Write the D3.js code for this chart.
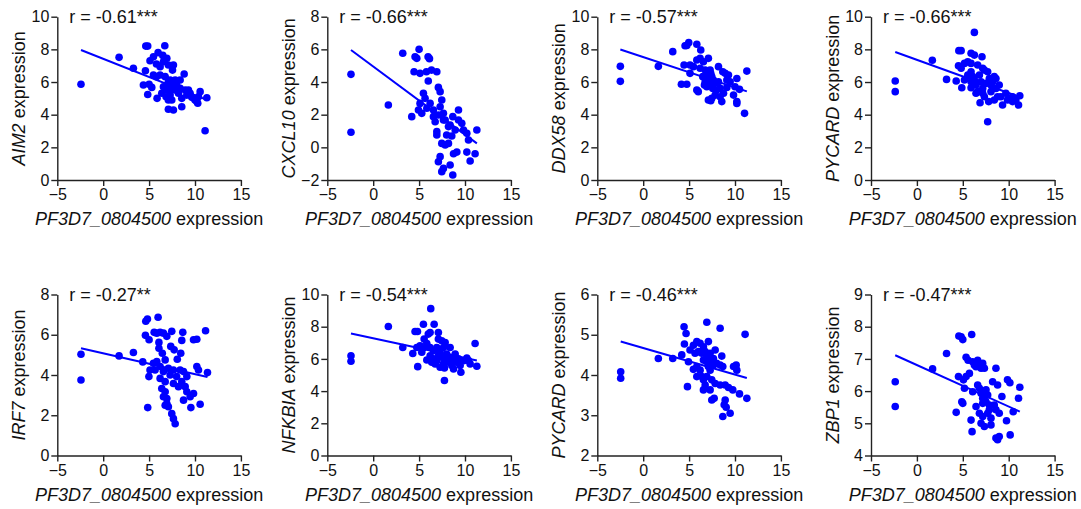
<!DOCTYPE html>
<html>
<head>
<meta charset="utf-8">
<script src="https://cdn.jsdelivr.net/npm/d3@7"></script>
<style>
  body { margin: 0; background: #fff; }
  svg { display: block; font-family: "Liberation Sans", Arial, sans-serif; }
</style>
</head>
<body>
<div id="chart"></div>
<script>
// gene on the y axis of each panel
var genes = ["AIM2", "CXCL10", "DDX58", "PYCARD", "IRF7", "NFKBIA", "PYCARD", "ZBP1"];
var rLabels = ["r = -0.61***", "r = -0.66***", "r = -0.57***", "r = -0.66***",
               "r = -0.27**", "r = -0.54***", "r = -0.46***", "r = -0.47***"];
var yDomains = [[0, 10], [-2, 8], [0, 10], [0, 10], [0, 8], [0, 10], [2, 6], [4, 9]];
var yTickSteps = [2, 2, 2, 2, 2, 2, 1, 1];
var xTicks = [-5, 0, 5, 10, 15];
var xLabel = "PF3D7_0804500";

// fitted line: y = intercept + slope * x
var fitIntercept = [7.42, 4.95, 7.53, 7.36, 5.08, 7.28, 4.67, 6.81];
var fitSlope = [-0.223, -0.417, -0.186, -0.203, -0.104, -0.122, -0.066, -0.129];

// points [x, y]
var aim2 = [[-2.42,5.86],[1.73,7.51],[3.29,6.84],[4.64,8.2],[4.85,8.2],[6.71,8.22],[4.6,6.69],[4.38,5.82],[5.0,5.86],[5.29,5.67],[4.85,5.24],[5.1,7.3],[5.98,7.8],[6.49,7.63],[6.93,7.45],[7.1,7.04],[7.55,6.73],[7.65,7.04],[5.8,7.1],[6.2,6.94],[6.56,7.24],[5.47,6.43],[5.8,6.33],[6.2,6.43],[6.75,6.33],[7.29,6.12],[8.82,6.49],[5.87,5.0],[6.38,5.31],[6.93,5.51],[7.1,4.9],[7.29,5.2],[7.47,5.71],[7.65,5.92],[7.84,5.51],[8.0,5.82],[8.2,5.31],[8.38,5.61],[8.56,5.0],[8.56,4.49],[7.1,4.33],[7.65,4.29],[8.93,5.51],[9.11,5.2],[9.29,5.51],[9.47,5.31],[9.65,5.06],[10.0,4.9],[10.2,4.8],[10.38,5.1],[10.56,5.41],[10.3,4.7],[11.29,5.04],[11.1,3.02],[6.93,5.82],[7.1,6.0],[7.36,5.61],[6.56,5.71],[6.85,5.1],[7.47,4.9],[7.84,6.12],[8.38,6.12],[5.47,7.55]];
var cxcl10 = [[-2.42,4.47],[-2.42,0.92],[1.65,2.59],[3.22,5.76],[4.56,5.55],[4.75,5.45],[5.0,6.0],[5.98,5.55],[6.13,5.43],[4.45,4.63],[5.1,4.53],[5.8,4.63],[6.35,4.73],[6.93,4.63],[6.0,4.06],[7.1,3.67],[7.29,3.41],[7.47,2.9],[5.47,3.31],[5.65,3.0],[5.1,2.69],[4.93,2.29],[4.2,1.88],[5.29,2.08],[5.84,2.39],[6.2,2.69],[6.56,2.29],[6.56,1.88],[6.75,1.57],[6.93,0.96],[6.93,0.76],[7.1,1.98],[7.29,2.49],[7.65,2.08],[7.84,1.67],[7.65,1.67],[8.2,1.27],[8.38,1.37],[8.67,1.88],[8.93,1.06],[9.29,1.67],[9.29,2.29],[9.65,1.47],[9.84,1.06],[10.2,0.86],[10.38,0.45],[11.29,1.06],[11.1,-0.39],[10.2,-0.29],[10.56,-0.84],[9.11,-0.29],[8.75,-0.39],[8.2,0.24],[7.47,0.24],[7.84,0.14],[7.29,-0.57],[7.1,-0.88],[7.65,-1.29],[7.47,-1.49],[8.38,-1.08],[8.67,-1.69],[8.56,0.69],[8.0,0.76]];
var ddx58 = [[-2.49,6.96],[-2.49,6.04],[1.65,6.96],[3.22,7.86],[4.56,8.22],[4.96,8.41],[4.75,8.24],[5.84,8.31],[6.27,7.96],[4.45,7.04],[5.1,7.04],[4.16,5.86],[4.75,5.86],[5.1,6.53],[5.47,6.94],[5.84,7.35],[6.2,7.45],[6.56,7.24],[7.1,7.45],[5.84,5.51],[6.0,5.41],[6.2,6.84],[6.75,6.73],[6.93,6.43],[7.29,6.73],[7.36,6.53],[6.49,6.33],[6.75,6.02],[6.93,5.71],[7.1,6.12],[7.29,5.82],[7.58,5.61],[7.84,5.92],[8.0,5.51],[8.2,6.02],[8.38,5.61],[7.1,4.9],[7.47,5.0],[7.36,4.86],[7.84,5.2],[8.56,4.8],[8.38,5.1],[8.75,5.31],[8.2,6.94],[8.67,6.63],[8.93,6.53],[9.29,6.43],[9.11,6.12],[9.47,6.02],[9.11,5.67],[9.84,5.2],[10.2,6.22],[10.0,5.71],[10.2,4.8],[10.2,4.69],[10.49,5.55],[11.29,6.67],[11.04,4.08],[6.67,5.82],[7.47,6.33],[7.65,6.12]];
var pycardA = [[-2.36,6.06],[-2.36,5.41],[1.68,7.33],[3.23,6.16],[4.57,7.92],[4.82,7.92],[6.26,9.04],[5.9,7.76],[6.26,7.65],[7.09,7.55],[4.28,6.06],[4.53,7.0],[4.82,6.84],[5.18,7.14],[5.54,7.24],[5.9,7.14],[4.89,5.65],[5.18,6.12],[5.54,6.43],[5.9,6.63],[6.08,6.33],[5.9,5.65],[6.26,6.12],[6.44,5.82],[6.62,5.41],[6.81,6.43],[6.99,6.02],[7.17,6.84],[7.17,5.61],[6.88,4.73],[7.35,5.1],[7.53,5.92],[7.71,6.63],[7.89,6.22],[8.07,5.41],[7.82,4.8],[7.71,3.57],[8.25,6.02],[8.43,6.33],[8.61,5.61],[8.79,5.1],[8.97,5.82],[9.15,5.1],[9.33,4.59],[9.69,5.31],[9.87,4.9],[10.05,5.0],[10.42,4.8],[10.78,4.9],[11.07,4.59],[11.21,5.16],[6.62,7.04],[7.35,6.73],[8.61,6.22],[8.07,5.82],[7.17,5.31],[6.44,5.31],[5.9,6.02],[8.43,4.9],[10.42,5.1]];
var irf7 = [[-2.42,5.03],[-2.42,3.75],[1.73,4.95],[3.29,5.12],[4.31,4.65],[4.64,6.67],[4.82,6.78],[5.98,6.87],[4.6,5.97],[5.0,5.75],[5.55,6.12],[5.84,6.08],[6.2,6.12],[6.56,6.08],[6.93,5.92],[7.47,6.17],[8.67,6.12],[8.56,5.72],[9.84,5.75],[10.2,5.78],[11.15,6.2],[6.07,5.62],[6.07,5.33],[6.44,5.08],[7.36,5.42],[7.73,5.25],[8.45,5.08],[8.07,4.78],[5.47,4.58],[5.84,4.67],[5.1,4.25],[4.98,3.92],[5.65,4.25],[6.2,4.42],[6.56,4.17],[6.75,4.75],[7.1,4.33],[7.29,4.0],[7.65,4.25],[8.0,3.92],[8.38,4.25],[8.75,4.17],[9.11,3.92],[10.2,4.42],[10.38,4.25],[11.36,4.12],[6.2,3.83],[6.75,3.67],[6.38,3.33],[6.75,3.17],[6.93,2.83],[6.56,2.92],[6.93,2.58],[7.1,2.42],[6.75,2.5],[7.47,2.08],[7.65,1.83],[7.84,1.58],[4.85,2.38],[8.2,3.42],[8.93,3.42],[9.11,3.17],[8.75,2.75],[9.47,2.92],[9.84,3.08],[9.55,2.38],[10.56,2.55],[7.65,3.58],[8.56,3.67]];
var nfkbia = [[-2.42,6.2],[-2.42,5.85],[1.65,8.01],[3.22,6.71],[4.31,6.34],[4.56,7.7],[4.82,7.7],[4.85,5.52],[5.47,8.15],[6.27,9.12],[6.64,8.15],[7.1,7.64],[6.0,7.54],[6.2,7.64],[7.1,7.23],[7.47,7.13],[7.84,7.02],[5.55,7.23],[5.84,6.96],[5.1,6.82],[4.75,6.71],[5.29,6.41],[6.2,6.71],[6.56,6.51],[6.93,6.71],[7.29,6.51],[7.65,6.71],[8.38,6.71],[5.84,5.93],[6.2,6.2],[6.56,6.0],[6.93,5.89],[7.1,6.2],[7.47,6.1],[7.65,5.69],[7.84,6.0],[8.0,6.3],[8.2,5.79],[8.38,6.1],[8.56,5.59],[8.75,5.89],[8.93,6.3],[9.11,5.79],[9.29,6.0],[7.76,5.44],[7.76,4.66],[8.75,5.38],[9.55,5.17],[9.84,5.89],[10.2,6.06],[10.38,5.89],[10.56,5.69],[11.1,6.96],[11.29,5.54],[6.75,5.69],[7.29,5.48],[6.38,5.79],[5.47,6.67],[9.47,5.59]];
var pycardB = [[-2.45,4.08],[-2.45,3.92],[1.65,4.41],[3.22,4.41],[4.2,4.5],[4.45,5.2],[4.67,5.03],[4.49,4.77],[4.93,4.33],[4.82,3.71],[6.93,5.31],[8.38,5.16],[11.1,5.01],[7.1,4.83],[5.1,4.62],[5.47,4.74],[5.84,4.83],[6.2,4.79],[6.56,4.7],[5.65,4.54],[6.02,4.58],[6.38,4.54],[6.75,4.58],[7.29,4.54],[7.84,4.62],[8.56,4.47],[5.47,4.14],[5.84,4.21],[6.2,4.12],[6.56,4.37],[6.93,4.33],[7.1,4.21],[7.29,4.12],[7.65,4.25],[8.0,4.29],[8.38,4.25],[8.67,4.21],[5.84,3.96],[6.56,3.88],[6.93,3.96],[7.47,3.88],[6.75,3.75],[6.56,3.63],[7.29,3.63],[7.84,3.79],[8.38,3.75],[8.93,3.75],[9.29,3.69],[9.76,3.63],[10.49,3.53],[11.29,3.42],[9.84,4.21],[10.2,4.12],[10.13,4.25],[7.47,3.38],[7.73,3.42],[8.93,3.38],[8.82,3.26],[9.04,3.2],[8.67,2.97],[9.47,3.05],[7.65,4.41],[7.47,4.33],[6.93,4.45],[6.38,3.96]];
var zbp1 = [[-2.36,6.29],[-2.36,5.52],[1.71,6.69],[3.23,7.17],[4.28,5.34],[4.57,7.71],[4.82,7.69],[5.0,7.6],[5.97,7.76],[4.53,6.45],[5.07,6.35],[5.18,6.09],[4.89,5.67],[5.0,5.62],[5.36,7.05],[5.58,6.96],[5.72,6.55],[5.36,6.45],[6.08,6.91],[6.26,6.81],[6.44,6.76],[6.62,6.96],[6.81,6.81],[6.99,6.71],[7.17,6.86],[7.35,6.71],[6.08,5.98],[5.9,5.1],[6.01,4.74],[6.44,5.52],[6.62,6.19],[6.81,6.09],[6.99,5.93],[7.17,5.78],[7.17,5.62],[7.35,5.83],[7.53,5.67],[7.71,5.88],[7.89,5.57],[6.81,5.31],[6.99,5.0],[7.17,5.21],[7.35,4.9],[7.71,5.31],[8.07,5.16],[8.07,4.95],[8.25,6.29],[8.61,6.71],[8.79,6.19],[8.43,5.57],[8.61,5.42],[8.97,5.31],[9.26,5.83],[8.61,4.54],[8.97,4.59],[8.79,4.49],[9.76,5.08],[9.87,6.35],[10.13,6.26],[10.16,4.64],[10.49,5.36],[11.07,5.78],[11.21,6.12],[7.89,5.42],[7.53,6.04]];

var panelPoints = [aim2, cxcl10, ddx58, pycardA, irf7, nfkbia, pycardB, zbp1];

var W = 1081, H = 509;
var colLeft = [57.3, 327.3, 597.3, 871];
var plotW = 183.6;
var rowTop = [16.7, 294.5];
var plotH = [163.3, 161];
var blue = "#0000ff";

var svg = d3.select("#chart").append("svg")
    .attr("width", W)
    .attr("height", H);

genes.forEach(function(gene, i) {
    var col = i % 4, row = Math.floor(i / 4);
    var left = colLeft[col], top = rowTop[row], h = plotH[row];

    var x = d3.scaleLinear().domain([-5, 15]).range([0, plotW]);
    var y = d3.scaleLinear().domain(yDomains[i]).range([h, 0]);

    var g = svg.append("g")
        .attr("transform", "translate(" + left + "," + top + ")");

    var yTicks = d3.range(yDomains[i][0], yDomains[i][1] + 0.001, yTickSteps[i]);

    var yAxis = g.append("g")
        .call(d3.axisLeft(y).tickValues(yTicks).tickFormat(d3.format("d"))
            .tickSize(6).tickSizeOuter(0).tickPadding(2));

    var xAxis = g.append("g")
        .attr("transform", "translate(0," + h + ")")
        .call(d3.axisBottom(x).tickValues(xTicks).tickFormat(d3.format("d"))
            .tickSize(6).tickSizeOuter(0).tickPadding(3));

    [yAxis, xAxis].forEach(function(a) {
        a.select(".domain").attr("stroke", "#222").attr("stroke-width", 1.4);
        a.selectAll(".tick line").attr("stroke", "#222").attr("stroke-width", 1.4);
        a.selectAll(".tick text")
            .attr("fill", "#111")
            .style("font-size", "16px")
            .style("font-family", "'Liberation Sans', Arial, sans-serif");
    });

    // points
    g.append("g")
        .selectAll("circle")
        .data(panelPoints[i])
        .join("circle")
        .attr("cx", d => x(d[0]))
        .attr("cy", d => y(d[1]))
        .attr("r", 3.8)
        .attr("fill", blue);

    // fitted line over the x range of the data
    var xr = d3.extent(panelPoints[i], d => d[0]);
    g.append("line")
        .attr("x1", x(xr[0]))
        .attr("x2", x(xr[1]))
        .attr("y1", y(fitIntercept[i] + fitSlope[i] * xr[0]))
        .attr("y2", y(fitIntercept[i] + fitSlope[i] * xr[1]))
        .attr("stroke", blue)
        .attr("stroke-width", 2);

    // r value
    g.append("text")
        .attr("x", 12)
        .attr("y", 6)
        .attr("fill", "#111")
        .style("font-size", "18px")
        .text(rLabels[i]);

    // x axis title
    var xt = g.append("text")
        .attr("x", plotW / 2)
        .attr("y", h + 45)
        .attr("text-anchor", "middle")
        .attr("fill", "#111")
        .style("font-size", "18px");
    xt.append("tspan").style("font-style", "italic").text(xLabel);
    xt.append("tspan").text(" expression");

    // y axis title
    var yt = g.append("text")
        .attr("transform", "translate(-32," + (h / 2) + ") rotate(-90)")
        .attr("text-anchor", "middle")
        .attr("fill", "#111")
        .style("font-size", "18px");
    yt.append("tspan").style("font-style", "italic").text(gene);
    yt.append("tspan").text(" expression");
});
</script>
</body>
</html>
